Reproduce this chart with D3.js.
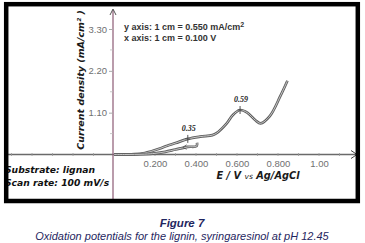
<!DOCTYPE html>
<html>
<head>
<meta charset="utf-8">
<script src="https://cdn.jsdelivr.net/npm/d3@7"></script>
<style>
  html, body { margin: 0; padding: 0; background: #fff; }
  svg { display: block; }
</style>
</head>
<body>
<svg id="chart" width="365" height="243"></svg>
<script>
// anodic (forward) scan, E in V, j in mA/cm2
const forwardE = [0.00, 0.10, 0.15, 0.18, 0.22, 0.26, 0.30, 0.36, 0.42, 0.48, 0.50, 0.55, 0.58, 0.615, 0.65, 0.69, 0.715, 0.76, 0.81, 0.846];
const forwardJ = [0.00, 0.01, 0.04, 0.08, 0.15, 0.23, 0.30, 0.41, 0.47, 0.51, 0.56, 0.82, 1.04, 1.17, 1.10, 0.90, 0.82, 1.01, 1.52, 1.94];
// return branch
const reverseE = [0.405, 0.403, 0.36, 0.30, 0.25, 0.20, 0.15, 0.05, 0.00];
const reverseJ = [0.31, 0.22, 0.20, 0.13, 0.07, 0.03, 0.01, 0.00, 0.00];

// marked oxidation potentials
const peakE = [0.36, 0.615];
const peakJ = [0.41, 1.17];
const peakLabels = ['0.35', '0.59'];

const xTickValues = [0.2, 0.4, 0.6, 0.8, 1.0];
const xTickLabels = ['0.200', '0.400', '0.600', '0.800', '1.00'];
const xMinorTicks = [-0.5, -0.4, -0.3, -0.2, -0.1, 0.1, 0.3, 0.5, 0.7, 0.9, 1.1];
const yTickValues = [1.10, 2.20, 3.30];
const yTickLabels = ['1.10', '2.20', '3.30'];
const yMinorTicks = [0.55, 1.65, 2.75];

const svg = d3.select('#chart');

const x = d3.scaleLinear().domain([0, 1]).range([114, 319]);
const y = d3.scaleLinear().domain([0, 3.30]).range([154.5, 29]);

const axisColor = '#6a6a6a';
const yAxisColor = '#8c5a74';

// x axis line with open arrow
svg.append('line')
    .attr('x1', 7).attr('x2', 357)
    .attr('y1', y(0)).attr('y2', y(0))
    .attr('stroke', axisColor)
    .attr('stroke-width', 1.4);
svg.append('path')
    .attr('d', `M351,${y(0) - 4}L357,${y(0)}L351,${y(0) + 4}`)
    .attr('fill', 'none')
    .attr('stroke', '#444')
    .attr('stroke-width', 1);

// x ticks + labels
const xAxis = d3.axisBottom(x)
    .tickValues(xTickValues)
    .tickSize(0)
    .tickPadding(6)
    .tickFormat((d, i) => xTickLabels[i]);
const gx = svg.append('g')
    .attr('transform', `translate(0,${y(0)})`)
    .call(xAxis);
gx.select('.domain').remove();
gx.selectAll('text')
    .attr('fill', '#707070')
    .attr('font-family', 'Liberation Sans, Arial, sans-serif')
    .attr('font-size', 9.5);

svg.append('g')
    .selectAll('line')
    .data(xTickValues.concat(xMinorTicks))
    .join('line')
    .attr('x1', d => x(d)).attr('x2', d => x(d))
    .attr('y1', y(0) - 1.5).attr('y2', y(0) + 1.5)
    .attr('stroke', '#999')
    .attr('stroke-width', 0.8);

// y axis line with open arrow
svg.append('line')
    .attr('x1', x(0) - 1).attr('x2', x(0) - 1)
    .attr('y1', 10).attr('y2', 201)
    .attr('stroke', yAxisColor)
    .attr('stroke-width', 1.2);
svg.append('path')
    .attr('d', `M${x(0) - 4},15L${x(0) - 1},9L${x(0) + 2},15`)
    .attr('fill', 'none')
    .attr('stroke', '#555')
    .attr('stroke-width', 1);

const yAxis = d3.axisLeft(y)
    .tickValues(yTickValues)
    .tickSize(4)
    .tickPadding(2)
    .tickFormat((d, i) => yTickLabels[i]);
const gy = svg.append('g')
    .attr('transform', `translate(${x(0) - 1},0)`)
    .call(yAxis);
gy.select('.domain').remove();
gy.selectAll('line').attr('stroke', '#aaa');
gy.selectAll('text')
    .attr('fill', '#707070')
    .attr('font-family', 'Liberation Sans, Arial, sans-serif')
    .attr('font-size', 9.5);

svg.append('g')
    .selectAll('line')
    .data(yMinorTicks)
    .join('line')
    .attr('x1', x(0) - 4).attr('x2', x(0) - 1)
    .attr('y1', d => y(d)).attr('y2', d => y(d))
    .attr('stroke', '#bbb')
    .attr('stroke-width', 0.8);

// voltammogram, drawn as a hollow double line like the scanned trace
const line = d3.line()
    .x(d => x(d[0]))
    .y(d => y(d[1]))
    .curve(d3.curveCatmullRom.alpha(0.5));

const forward = forwardE.map((e, i) => [e, forwardJ[i]]);
const reverse = reverseE.map((e, i) => [e, reverseJ[i]]);

[forward, reverse].forEach(pts => {
    svg.append('path')
        .attr('d', line(pts))
        .attr('fill', 'none')
        .attr('stroke', '#5e5e5e')
        .attr('stroke-width', 2.7);
    svg.append('path')
        .attr('d', line(pts))
        .attr('fill', 'none')
        .attr('stroke', '#d4d4d4')
        .attr('stroke-width', 0.9);
});

// little arrow on the return branch
svg.append('path')
    .attr('d', `M${x(0.34) + 3},${y(0.19) - 2.5}L${x(0.34) - 1},${y(0.19)}L${x(0.34) + 3},${y(0.19) + 2}`)
    .attr('fill', 'none')
    .attr('stroke', '#555')
    .attr('stroke-width', 0.8);

// peak markers
const peaks = svg.append('g');
peaks.selectAll('path')
    .data(peakE)
    .join('path')
    .attr('d', (d, i) => `M${x(d)},${y(peakJ[i]) - 4}V${y(peakJ[i]) + 4}M${x(d) - 2.5},${y(peakJ[i])}H${x(d) + 2.5}`)
    .attr('stroke', '#444')
    .attr('stroke-width', 0.9);
peaks.selectAll('text')
    .data(peakE)
    .join('text')
    .attr('x', d => x(d) + 1)
    .attr('y', (d, i) => y(peakJ[i]) - 8)
    .attr('text-anchor', 'middle')
    .attr('font-family', 'Liberation Serif, Times New Roman, serif')
    .attr('font-style', 'italic')
    .attr('font-weight', 'bold')
    .attr('font-size', 8)
    .attr('fill', '#222')
    .text((d, i) => peakLabels[i]);

// scale note
const note = svg.append('text')
    .attr('font-family', 'Liberation Sans, Arial, sans-serif')
    .attr('font-weight', 'bold')
    .attr('font-size', 9)
    .attr('fill', '#333');
note.append('tspan').attr('x', 124).attr('y', 30).text('y axis: 1 cm = 0.550 mA/cm');
note.append('tspan').attr('dy', -3.5).attr('font-size', 7).text('2');
note.append('tspan').attr('x', 124).attr('y', 40.5).text('x axis: 1 cm = 0.100 V');

// axis titles
svg.append('text')
    .attr('transform', 'translate(84,80) rotate(-90)')
    .attr('text-anchor', 'middle')
    .attr('font-family', 'DejaVu Sans, Verdana, sans-serif')
    .attr('font-style', 'italic')
    .attr('font-weight', 'bold')
    .attr('font-size', 9.5)
    .attr('fill', '#1a1a1a')
    .text('Current density (mA/cm² )');

const xt = svg.append('text')
    .attr('x', 258)
    .attr('y', 179)
    .attr('text-anchor', 'middle')
    .attr('font-family', 'DejaVu Sans, Verdana, sans-serif')
    .attr('font-style', 'italic')
    .attr('font-weight', 'bold')
    .attr('font-size', 9.8)
    .attr('fill', '#1a1a1a');
xt.append('tspan').text('E / V ');
xt.append('tspan').attr('font-size', 7.5).attr('font-weight', 'normal').text('vs');
xt.append('tspan').text(' Ag/AgCl');

// experiment conditions
const cond = svg.append('text')
    .attr('font-family', 'DejaVu Sans, Verdana, sans-serif')
    .attr('font-style', 'italic')
    .attr('font-weight', 'bold')
    .attr('font-size', 9.2)
    .attr('fill', '#111');
cond.append('tspan').attr('x', 5).attr('y', 173).text('Substrate: lignan');
cond.append('tspan').attr('x', 5).attr('y', 186).text('Scan rate: 100 mV/s');

// frame
svg.append('rect')
    .attr('x', 6.2).attr('y', 4.2)
    .attr('width', 351.6).attr('height', 196.8)
    .attr('fill', 'none')
    .attr('stroke', '#000')
    .attr('stroke-width', 4.5);

// caption
const captionColor = '#1f2660';
svg.append('text')
    .attr('x', 182).attr('y', 227)
    .attr('text-anchor', 'middle')
    .attr('font-family', 'Liberation Sans, Arial, sans-serif')
    .attr('font-style', 'italic')
    .attr('font-weight', 'bold')
    .attr('font-size', 11.5)
    .attr('fill', captionColor)
    .text('Figure 7');
svg.append('text')
    .attr('x', 182).attr('y', 239.5)
    .attr('text-anchor', 'middle')
    .attr('font-family', 'Liberation Sans, Arial, sans-serif')
    .attr('font-style', 'italic')
    .attr('font-size', 11)
    .attr('fill', captionColor)
    .text('Oxidation potentials for the lignin, syringaresinol at pH 12.45');
</script>
</body>
</html>
